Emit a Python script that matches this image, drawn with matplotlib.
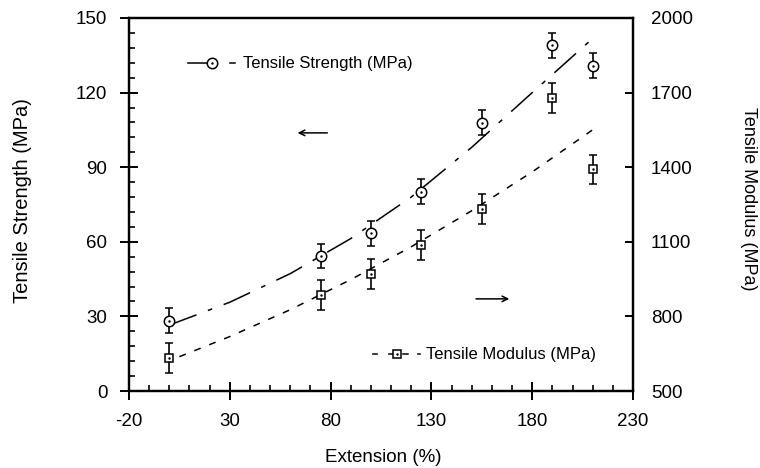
### Tensile strength and modulus vs extension, two y axes ###

import matplotlib
matplotlib.use("Agg")
import matplotlib.pyplot as plt
from matplotlib.ticker import MultipleLocator
import numpy as np

plt.rcParams['font.family'] = ['Liberation Sans', 'DejaVu Sans']
plt.rcParams['axes.unicode_minus'] = False

extension = [0, 75, 100, 125, 155, 190, 210]
strength = [28.3, 54.3, 63.4, 80.1, 107.9, 139.1, 130.8]
strength_err = [5, 5, 5, 5, 5, 5, 5]
modulus = [632, 886, 969, 1087, 1232, 1677, 1391]
modulus_err = [60, 60, 60, 60, 60, 60, 60]

# Trend curves as drawn in the figure.
fit_x = [0, 30, 60, 90, 120, 150, 180, 211]
fit_strength = [26.5, 35.7, 47.2, 61.3, 78.0, 98.0, 120.0, 142.5]
fit_mx = [5, 30, 60, 90, 120, 150, 180, 211]
fit_modulus = [638, 719, 827, 948, 1080, 1225, 1381, 1556]

x_ticks = [-20, 30, 80, 130, 180, 230]
left_ticks = [0, 30, 60, 90, 120, 150]
right_ticks = [500, 800, 1100, 1400, 1700, 2000]

fig = plt.figure(figsize=(7.6, 4.68), dpi=100)
ax = fig.add_axes([129/760, 1-391/468, 504/760, 373/468])
ax2 = ax.twinx()

# Strength on the left axis.
ax.plot(fit_x, fit_strength, color='black', lw=1.1, dashes=(19, 8, 3, 8))
ax.errorbar(extension, strength, yerr=strength_err, fmt='o', mfc='white', mec='black',
            mew=1.1, ms=7.5, ecolor='black', elinewidth=1.2, capsize=2.7, capthick=1.2, zorder=3)
ax.plot(extension, strength, '.', color='black', ms=1.5, zorder=4)

# Modulus on the right axis.
ax2.plot(fit_mx, fit_modulus, color='black', lw=1.1, dashes=(4.5, 6))
ax2.errorbar(extension, modulus, yerr=modulus_err, fmt='s', mfc='white', mec='black',
             mew=1.1, ms=6.3, ecolor='black', elinewidth=1.2, capsize=2.7, capthick=1.2, zorder=3)
ax2.plot(extension, modulus, '.', color='black', ms=1.5, zorder=4)

ax.set_xlim(-20, 230)
ax.set_ylim(0, 150)
ax2.set_ylim(500, 2000)
ax.set_xticks(x_ticks)
ax.set_yticks(left_ticks)
ax2.set_yticks(right_ticks)
ax.xaxis.set_minor_locator(MultipleLocator(10))
ax.yaxis.set_minor_locator(MultipleLocator(6))

ax.tick_params(which='major', direction='inout', length=13, width=1.4, labelsize=13.5)
ax.tick_params(axis='x', which='major', pad=9.5)
ax.tick_params(axis='y', which='major', pad=9)
ax.tick_params(which='minor', direction='in', length=4, width=1.2)
ax2.tick_params(axis='y', direction='in', length=6, width=1.4, labelsize=13.5, pad=13)
for a in (ax, ax2):
    for s in a.spines.values():
        s.set_linewidth(1.6)

# Hand-made legend entries.
t = ax.transAxes
ax.plot([0.117, 0.155], [0.879, 0.879], color='black', lw=1.1, transform=t)
ax.plot([0.165], [0.879], 'o', mfc='white', mec='black', mew=1.1, ms=7.5, transform=t)
ax.plot([0.165], [0.879], '.', color='black', ms=1.5, transform=t)
ax.plot([0.200, 0.210], [0.879, 0.879], color='black', lw=1.1, transform=t)
ax.text(0.226, 0.879, 'Tensile Strength (MPa)', transform=t, fontsize=12, va='center')

ly = 0.099
for x0, x1 in [(0.485, 0.493), (0.516, 0.524), (0.544, 0.554), (0.573, 0.577)]:
    ax.plot([x0, x1], [ly, ly], color='black', lw=1.1, transform=t)
ax.plot([0.532], [ly], 's', mfc='white', mec='black', mew=1.1, ms=6.3, transform=t)
ax.plot([0.532], [ly], '.', color='black', ms=1.5, transform=t)
ax.text(0.589, ly, 'Tensile Modulus (MPa)', transform=t, fontsize=12, va='center')

# Arrows pointing to the axis each series belongs to.
ax.annotate('', xy=(0.329, 0.692), xytext=(0.399, 0.692), xycoords=t,
            arrowprops=dict(arrowstyle='->', lw=1.1, color='black'))
ax.annotate('', xy=(0.760, 0.247), xytext=(0.683, 0.247), xycoords=t,
            arrowprops=dict(arrowstyle='->', lw=1.1, color='black'))

fig.text(0.030, 0.571, 'Tensile Strength (MPa)', rotation=90, fontsize=14.5, ha='center', va='center')
fig.text(0.9855, 0.575, 'Tensile Modulus (MPa)', rotation=270, fontsize=13, ha='center', va='center')
fig.text(0.504, 0.0235, 'Extension (%)', fontsize=13.5, ha='center', va='center')

plt.savefig('out.png', dpi=100)
